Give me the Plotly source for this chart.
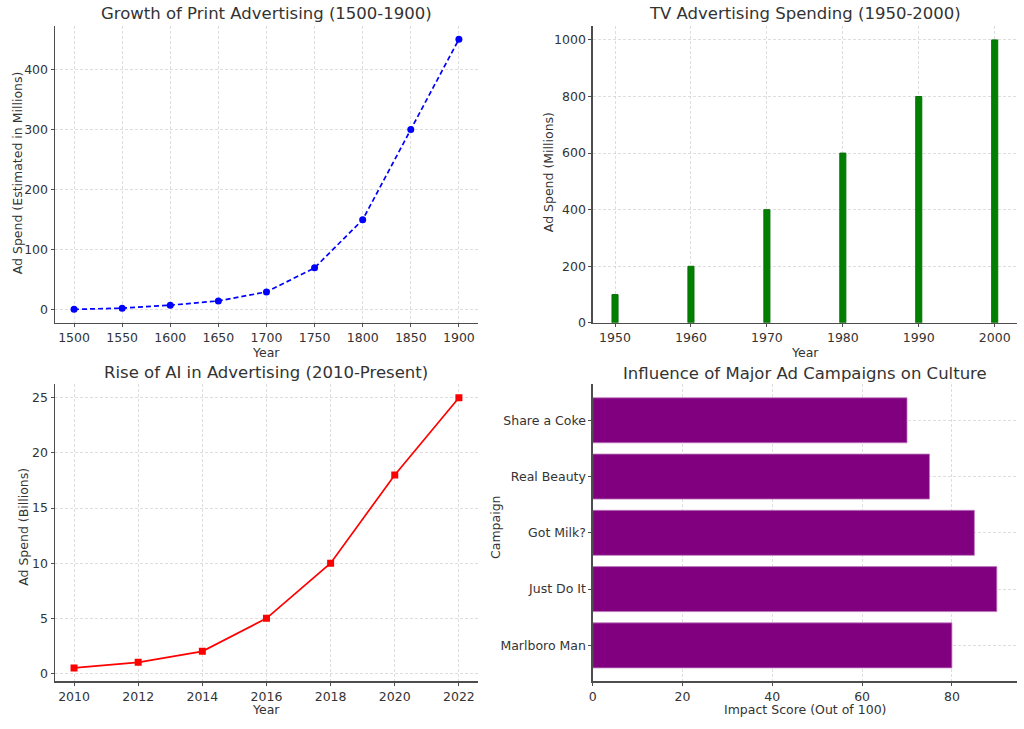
import plotly.graph_objects as go

# Data
print_years = [1500, 1550, 1600, 1650, 1700, 1750, 1800, 1850, 1900]
print_spend = [1, 3, 8, 15, 30, 70, 150, 300, 450]

tv_years = [1950, 1960, 1970, 1980, 1990, 2000]
tv_spend = [100, 200, 400, 600, 800, 1000]

ai_years = [2010, 2012, 2014, 2016, 2018, 2020, 2022]
ai_spend = [0.5, 1, 2, 5, 10, 18, 25]

campaigns = ["Marlboro Man", "Just Do It", "Got Milk?", "Real Beauty", "Share a Coke"]
impact = [80, 90, 85, 75, 70]

W, H = 1024, 729
TXT = "#333333"
FONT = "DejaVu Sans"
GRID = "rgba(185,185,185,0.6)"

fig = go.Figure()

fig.add_trace(go.Scatter(x=print_years, y=print_spend, mode="lines+markers",
                         line=dict(color="blue", width=1.7, dash="5px,3px"),
                         marker=dict(color="blue", size=7, symbol="circle"),
                         xaxis="x", yaxis="y", showlegend=False))
fig.add_trace(go.Bar(x=tv_years, y=tv_spend, width=0.8,
                     marker=dict(color="green", line=dict(color="#0a6e0a", width=1)),
                     xaxis="x2", yaxis="y2", showlegend=False))
fig.add_trace(go.Scatter(x=ai_years, y=ai_spend, mode="lines+markers",
                         line=dict(color="red", width=1.7),
                         marker=dict(color="red", size=7, symbol="square"),
                         xaxis="x3", yaxis="y3", showlegend=False))
fig.add_trace(go.Bar(x=impact, y=list(range(len(campaigns))), orientation="h", width=0.8,
                     marker=dict(color="purple", line=dict(color="rgba(190,120,190,0.8)", width=1)),
                     xaxis="x4", yaxis="y4", showlegend=False))

def px_x(p):
    return p / W

def px_y(p):
    return 1 - p / H

L1, R1, L2, R2 = 51, 476, 591, 1017
T1, B1, T2, B2 = 26, 326, 388, 688

def ax(domain, rng, tickvals=None, ticktext=None, anchor=None):
    d = dict(domain=domain, range=rng, showgrid=True, gridcolor=GRID, griddash="3px,2px",
             gridwidth=0.8, showline=True, linecolor="#4d4d4d", linewidth=1.3,
             zeroline=False, ticks="outside", ticklen=3, tickcolor="#4d4d4d", tickwidth=1,
             tickfont=dict(family=FONT, size=12.5, color=TXT), layer="above traces",
             anchor=anchor, fixedrange=True)
    if tickvals is not None:
        d["tickmode"] = "array"
        d["tickvals"] = tickvals
    if ticktext is not None:
        d["ticktext"] = ticktext
    return d

fig.update_layout(
    width=W, height=H, margin=dict(l=0, r=0, t=0, b=0),
    paper_bgcolor="white", plot_bgcolor="white",
    font=dict(family=FONT, color=TXT),
    xaxis=ax([px_x(L1), px_x(R1)], [1480, 1920], list(range(1500, 1901, 50)), anchor="y"),
    yaxis=ax([px_y(B1), px_y(T1)], [-21.45, 472.45], [0, 100, 200, 300, 400], anchor="x"),
    xaxis2=ax([px_x(L2), px_x(R2)], [1947.06, 2002.94], tv_years, anchor="y2"),
    yaxis2=ax([px_y(B1), px_y(T1)], [0, 1050], [0, 200, 400, 600, 800, 1000], anchor="x2"),
    xaxis3=ax([px_x(L1), px_x(R1)], [2009.4, 2022.6], ai_years, anchor="y3"),
    yaxis3=ax([px_y(B2), px_y(T2)], [-0.725, 26.225], [0, 5, 10, 15, 20, 25], anchor="x3"),
    xaxis4=ax([px_x(L2), px_x(R2)], [0, 94.5], [0, 20, 40, 60, 80], anchor="y4"),
    yaxis4=ax([px_y(B2), px_y(T2)], [-0.64, 4.64], list(range(len(campaigns))), campaigns, anchor="x4"),
)

annots = []
def title(text, cx, cy):
    annots.append(dict(text=text, x=px_x(cx), y=px_y(cy), xref="paper", yref="paper",
                       showarrow=False, xanchor="center", yanchor="middle",
                       font=dict(family=FONT, size=16.5, color=TXT)))

def label(text, cx, cy, angle=0):
    annots.append(dict(text=text, x=px_x(cx), y=px_y(cy), xref="paper", yref="paper",
                       showarrow=False, xanchor="center", yanchor="middle", textangle=angle,
                       font=dict(family=FONT, size=12.5, color=TXT)))

title("Growth of Print Advertising (1500-1900)", (L1 + R1) / 2, 14)
title("TV Advertising Spending (1950-2000)", (L2 + R2) / 2, 14)
title("Rise of AI in Advertising (2010-Present)", (L1 + R1) / 2, 376)
title("Influence of Major Ad Campaigns on Culture", (L2 + R2) / 2, 377)

label("Year", (L1 + R1) / 2, 355.5)
label("Year", (L2 + R2) / 2, 355.5)
label("Year", (L1 + R1) / 2, 716)
label("Impact Score (Out of 100)", (L2 + R2) / 2, 716)
label("Ad Spend (Estimated in Millions)", 13, (T1 + B1) / 2 - 2, -90)
label("Ad Spend (Millions)", 546, (T1 + B1) / 2 - 2, -90)
label("Ad Spend (Billions)", 20, (T2 + B2) / 2 - 6, -90)
label("Campaign", 494, (T2 + B2) / 2 - 6, -90)

fig.update_layout(annotations=annots)

fig.write_html(
    "out.html",
    config={"displayModeBar": False, "staticPlot": True},
    post_script="document.body.style.margin='0';document.body.style.padding='0';",
)
